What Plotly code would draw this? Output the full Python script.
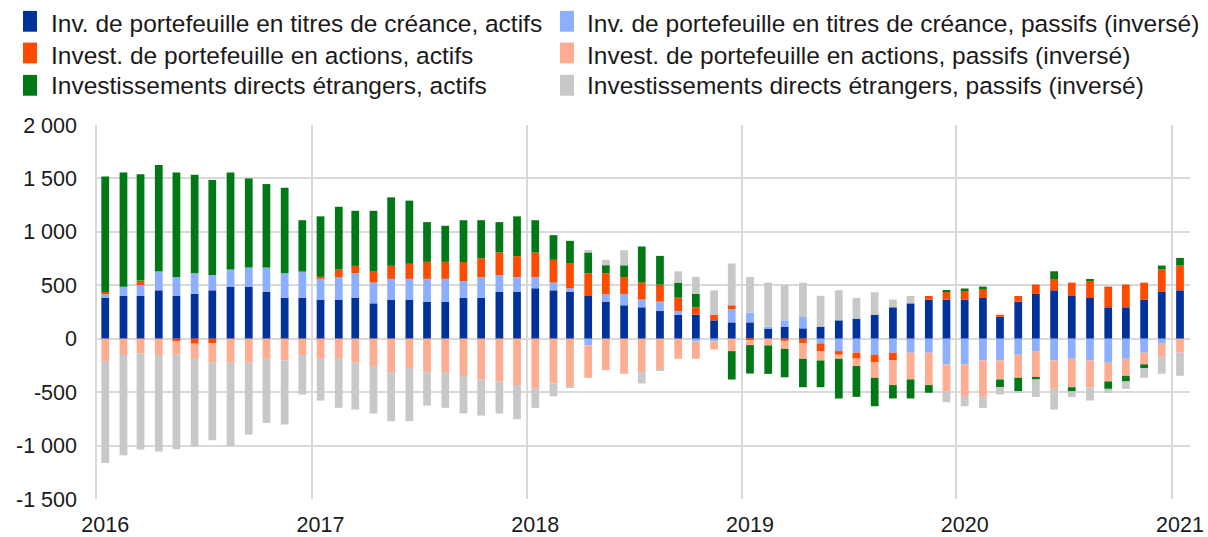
import pandas as pd
import plotly.graph_objects as go

# Monthly observations, Jan 2016 - Jan 2021 (bars placed mid-month)
months = (pd.date_range("2016-01-01", periods=61, freq="MS") + pd.Timedelta(days=14)).strftime("%Y-%m-%d").tolist()

debt_assets = [381, 400, 400, 453, 400, 420, 453, 488, 488, 438, 384, 384,
               366, 366, 384, 331, 366, 366, 347, 347, 384, 384, 438, 438,
               472, 453, 438, 400, 347, 313, 294, 259, 225, 225, 172, 153,
               153, 97, 113, 97, 113, 172, 188, 225, 294, 331, 366, 366,
               366, 381, 206, 347, 419, 453, 400, 381, 294, 294, 366, 438,
               453]
debt_liab = [35, 87, 103, 175, 178, 192, 144, 159, 178, 228, 228, 244,
             194, 209, 228, 194, 194, 194, 213, 213, 156, 191, 156, 138,
             103, 72, 34, -63, 69, 106, 72, 88, 34, -25, -25, 122,
             91, 16, 59, 106, -44, -116, -131, -150, -131, -131, -131, -241,
             -241, -203, -203, -150, -116, -203, -188, -203, -225, -188, -131, -47,
             0]
equity_assets = [22, 0, 41, 0, -25, -47, -44, 0, 0, 0, 0, 0,
                 19, 72, 69, 103, 122, 141, 159, 159, 178, 178, 213, 197,
                 231, 213, 231, 213, 197, 159, 159, 159, 125, 69, 53, 38,
                 -15, 0, -20, -44, -72, -34, -56, -72, -72, 0, 34, 72,
                 88, 91, 19, 53, 88, 106, 125, 159, 194, 213, 159, 209,
                 231]
equity_liab = [-209, -153, -137, -153, -125, -141, -181, -225, -225, -188, -203, -153,
               -188, -188, -225, -256, -313, -275, -313, -313, -350, -381, -400, -434,
               -469, -419, -450, -303, -294, -328, -313, -288, -188, -163, -75, -116,
               -45, -63, -75, -144, -88, -38, -69, -144, -231, -250, -303, -250,
               -303, -341, -178, -216, -250, -266, -266, -250, -175, -159, -109, -122,
               -131]
fdi_assets = [1081, 1069, 994, 997, 978, 922, 888, 909, 834, 781, 800, 481,
              566, 588, 516, 569, 641, 591, 372, 338, 391, 356, 284, 372,
              303, 231, 213, 194, 75, 109, 338, 269, 141, 125, 0, -266,
              -266, -266, -266, -266, -250, -372, -288, -266, -125, -178, -72, 16,
              16, 16, -72, -125, -16, 72, -38, 19, -69, -53, -34, 38,
              72]
fdi_liab = [-953, -937, -900, -903, -884, -822, -725, -781, -672, -600, -600, -369,
            -391, -459, -438, -444, -459, -497, -313, -334, -350, -338, -300, -319,
            -178, -119, -10, 22, 50, 141, -106, -6, 106, 159, 228, 391,
            334, 413, 331, 322, 288, 281, 194, 209, 72, 69, 0, -103,
            -88, -103, -69, -16, -163, -194, -53, -125, -38, -69, -91, -159,
            -216]

series_names = [
    "Inv. de portefeuille en titres de créance, actifs",
    "Inv. de portefeuille en titres de créance, passifs (inversé)",
    "Invest. de portefeuille en actions, actifs",
    "Invest. de portefeuille en actions, passifs (inversé)",
    "Investissements directs étrangers, actifs",
    "Investissements directs étrangers, passifs (inversé)",
]
series_values = [debt_assets, debt_liab, equity_assets, equity_liab, fdi_assets, fdi_liab]
series_colors = ["#003299", "#8cb0ff", "#ff4b00", "#ffad92", "#007816", "#c8c8c8"]

year_ticks = ["2016-01-15", "2017-01-15", "2018-01-15", "2019-01-15", "2020-01-15", "2021-01-15"]
year_labels = ["2016", "2017", "2018", "2019", "2020", "2021"]
y_ticks = [-1500, -1000, -500, 0, 500, 1000, 1500, 2000]
y_labels = ["-1 500", "-1 000", "-500", "0", "500", "1 000", "1 500", "2 000"]

FONT = "Arial, 'Liberation Sans', sans-serif"
GRID = "#d9d9d9"
W, H = 1208, 537
ML, MR, MT, MB = 97, 18, 125, 38
PW, PH = W - ML - MR, H - MT - MB


def px_x(px):
    return (px - ML) / PW


def px_y(py):
    return 1 - (py - MT) / PH


fig = go.Figure()
for name, vals, col in zip(series_names, series_values, series_colors):
    fig.add_trace(go.Bar(x=months, y=vals, name=name, showlegend=False,
                         marker=dict(color=col, line=dict(width=0))))

# Two-column legend (row-wise order: left column = assets, right column = liabilities)
col_marker_x = [23, 560]
col_text_x = [49, 584.5]
row_marker_y = [21.3, 53.0, 85.3]
row_text_y = [23.5, 55.3, 85.5]
shapes, annotations = [], []
for k, (name, col) in enumerate(zip(series_names, series_colors)):
    c, r = k % 2, k // 2
    shapes.append(dict(type="rect", xref="paper", yref="paper",
                       x0=px_x(col_marker_x[c]), x1=px_x(col_marker_x[c] + 14),
                       y0=px_y(row_marker_y[r] + 10.4), y1=px_y(row_marker_y[r] - 10.4),
                       fillcolor=col, line=dict(width=0), layer="above"))
    annotations.append(dict(text=name, xref="paper", yref="paper",
                            x=px_x(col_text_x[c]), y=px_y(row_text_y[r]),
                            xanchor="left", yanchor="middle", showarrow=False,
                            font=dict(family=FONT, size=24.5, color="#1a1a1a")))

fig.update_layout(
    width=W, height=H,
    barmode="relative", bargap=0.53,
    plot_bgcolor="white", paper_bgcolor="white",
    margin=dict(l=ML, r=MR, t=MT, b=MB, autoexpand=False),
    font=dict(family=FONT, size=21.5, color="#1a1a1a"),
    showlegend=False,
    shapes=shapes, annotations=annotations,
)
fig.update_xaxes(
    type="date", range=["2016-01-01", "2021-02-01"], automargin=False,
    tickmode="array", tickvals=year_ticks, ticktext=year_labels,
    showgrid=False, zeroline=False, showline=False, ticks="",
    ticklabelstandoff=10,
    minor=dict(tick0="2016-01-01", dtick="M12", showgrid=True, gridcolor=GRID, gridwidth=1.5, ticks=""),
)
fig.update_yaxes(
    range=[-1500, 2000], automargin=False,
    tickmode="array", tickvals=y_ticks, ticktext=y_labels,
    showgrid=True, gridcolor=GRID, gridwidth=1.5,
    zeroline=True, zerolinecolor=GRID, zerolinewidth=1.5,
    showline=True, linecolor=GRID, linewidth=1.5, ticks="",
    ticklabelstandoff=14,
)

fig.write_html("out.html", config={"displayModeBar": False},
               post_script="document.body.style.margin='0';")
